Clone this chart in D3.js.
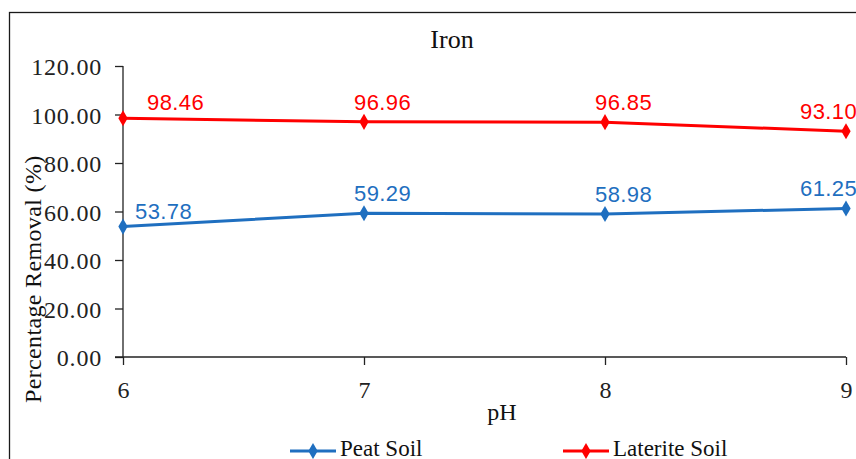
<!DOCTYPE html>
<html>
<head>
<meta charset="utf-8">
<script src="https://cdn.jsdelivr.net/npm/d3@7"></script>
<style>
  html, body { margin: 0; padding: 0; background: #fff; overflow: hidden; }
  svg { display: block; }
</style>
</head>
<body>
<svg id="chart" width="856" height="459"></svg>
<script>
// pH levels tested and iron removal (%) for each soil
const phLevels = [6, 7, 8, 9];
const peatSoil = [53.78, 59.29, 58.98, 61.25];
const lateriteSoil = [98.46, 96.96, 96.85, 93.10];
const yTicks = [0, 20, 40, 60, 80, 100, 120];
const seriesNames = ["Peat Soil", "Laterite Soil"];
const seriesColors = ["#1f6fc0", "#ff0000"];

const svg = d3.select("#chart");

// outer chart frame (runs past the right and bottom edges)
svg.append("rect")
  .attr("x", 9.5).attr("y", 12.5)
  .attr("width", 900).attr("height", 500)
  .attr("fill", "#fff").attr("stroke", "#1a1a1a").attr("stroke-width", 1.3);

const x = d3.scaleLinear().domain([6, 9]).range([123, 846]);
const y = d3.scaleLinear().domain([0, 120]).range([357, 66]);

const serif = "'Liberation Serif', 'Times New Roman', serif";
const sans = "'Liberation Sans', Arial, sans-serif";

// y axis
const yAxis = svg.append("g")
  .attr("transform", `translate(${x(6)},0)`)
  .call(d3.axisLeft(y).tickValues(yTicks).tickFormat(d3.format(".2f")).tickSize(8).tickPadding(13));
yAxis.select(".domain").attr("stroke", "#222").attr("stroke-width", 1.3)
  .attr("d", `M0,${y(120)}V${y(0)}`);
yAxis.selectAll(".tick line").attr("stroke", "#222").attr("stroke-width", 1.3);
yAxis.selectAll(".tick text")
  .attr("fill", "#222").attr("dy", "0.36em")
  .style("font-family", serif).style("font-size", "24px").style("letter-spacing", "0.8px");

// x axis
const xAxis = svg.append("g")
  .attr("transform", `translate(0,${y(0)})`)
  .call(d3.axisBottom(x).tickValues(phLevels).tickFormat(d3.format("d")).tickSize(8).tickPadding(16));
xAxis.select(".domain").attr("stroke", "#222").attr("stroke-width", 1.3)
  .attr("d", `M${x(6) - 8},0H${x(9)}`);
xAxis.selectAll(".tick line").attr("stroke", "#222").attr("stroke-width", 1.3);
xAxis.selectAll(".tick text")
  .attr("fill", "#222").style("font-family", serif).style("font-size", "24px");

// chart title and axis titles
svg.append("text").attr("x", 452).attr("y", 48).attr("text-anchor", "middle")
  .style("font-family", serif).style("font-size", "26px").attr("fill", "#111").text("Iron");
svg.append("text").attr("x", 502).attr("y", 420).attr("text-anchor", "middle")
  .style("font-family", serif).style("font-size", "24px").attr("fill", "#111").text("pH");
svg.append("text")
  .attr("transform", "translate(41,403) rotate(-90)")
  .attr("text-anchor", "start")
  .style("font-family", serif).style("font-size", "24px").style("letter-spacing", "0.35px")
  .attr("fill", "#111").text("Percentage Removal (%)");

// series lines, markers and value labels
const line = d3.line().x((d, i) => x(phLevels[i])).y(d => y(d));
const diamond = d3.symbol().type(d3.symbolDiamond).size(75);

[peatSoil, lateriteSoil].forEach((vals, s) => {
  const color = seriesColors[s];
  svg.append("path").datum(vals).attr("d", line)
    .attr("fill", "none").attr("stroke", color).attr("stroke-width", 3);
  svg.selectAll(null).data(vals).enter().append("path")
    .attr("d", diamond)
    .attr("transform", (d, i) => `translate(${x(phLevels[i])},${y(d)})`)
    .attr("fill", color);
  svg.selectAll(null).data(vals).enter().append("text")
    .attr("x", (d, i) => {
      const px = x(phLevels[i]);
      if (i === 0) return px + (s === 0 ? 12 : 24);
      if (i === vals.length - 1) return px - 46;
      return px - 10;
    })
    .attr("y", (d, i) => y(d) - (i === 0 ? 8 : 12))
    .attr("fill", color)
    .style("font-family", sans).style("font-size", "22px").style("letter-spacing", "0.4px")
    .text(d => d3.format(".2f")(d));
});

// legend
const legendX = [290, 563];
seriesNames.forEach((name, s) => {
  const g = svg.append("g").attr("transform", `translate(${legendX[s]},451)`);
  g.append("line").attr("x1", 0).attr("x2", 46).attr("stroke", seriesColors[s]).attr("stroke-width", 3);
  g.append("path").attr("d", diamond).attr("transform", "translate(23,0)").attr("fill", seriesColors[s]);
  g.append("text").attr("x", 50).attr("y", 5)
    .style("font-family", serif).style("font-size", "23px").attr("fill", "#111").text(name);
});
</script>
</body>
</html>
